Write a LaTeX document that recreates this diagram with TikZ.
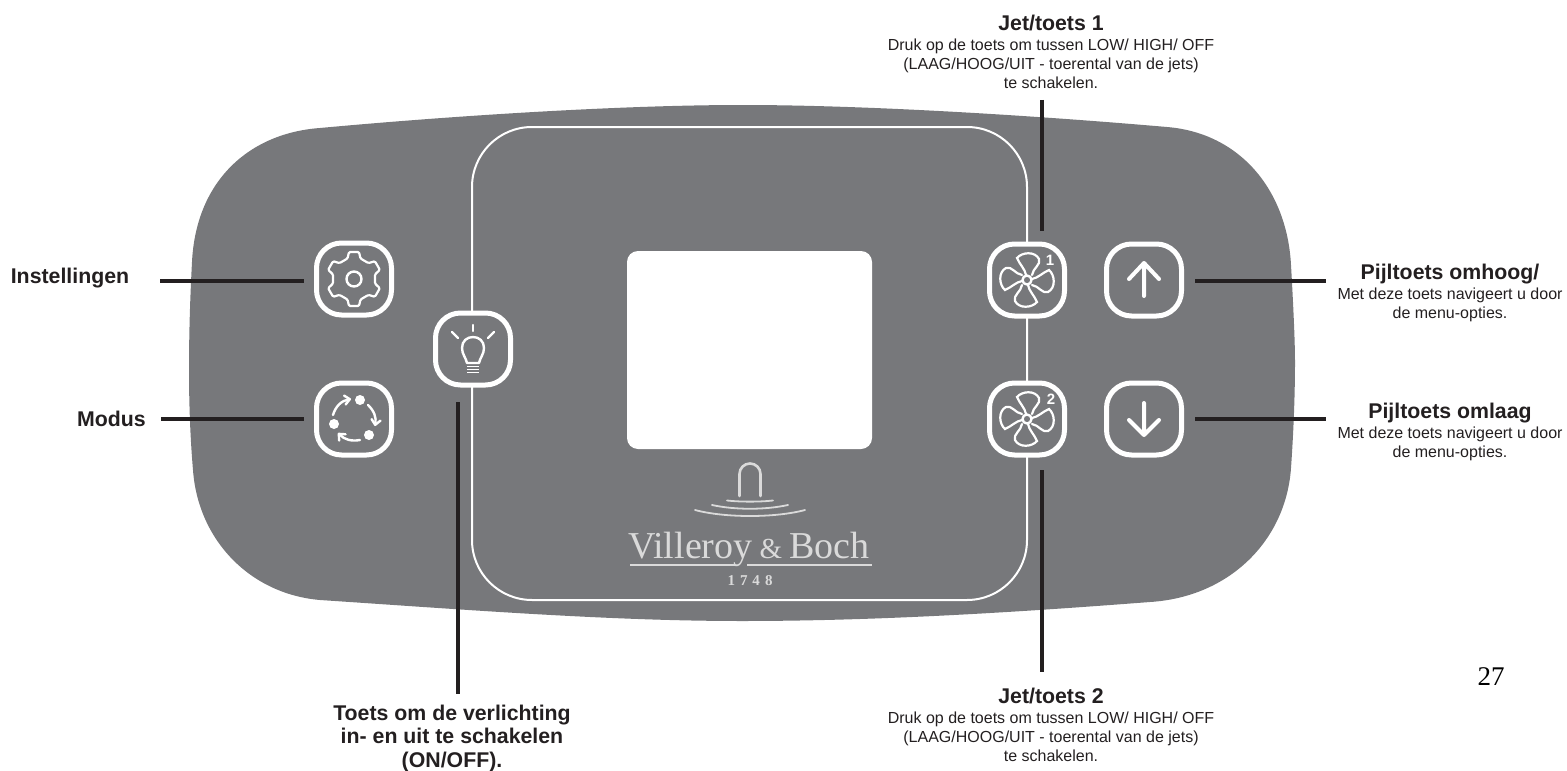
\documentclass[tikz,border=0pt]{standalone}
\usepackage{fontspec}
\setmainfont{Liberation Sans}
\newfontfamily\logofont{Liberation Serif}
\usetikzlibrary{arrows.meta,calc}
\definecolor{figpanel}{RGB}{119,120,123}
\definecolor{figline}{RGB}{35,31,32}
\definecolor{figlogo}{RGB}{218,218,218}
\newcommand{\infotitle}[1]{{\fontsize{21.3}{22}\selectfont\bfseries #1}}
\tikzset{
  panelshape/.style={fill=figpanel, draw=none},
  framebox/.style={draw=white, line width=2pt, rounded corners=60pt, minimum width=555pt, minimum height=473pt, inner sep=0pt, outer sep=0pt},
  screenbox/.style={fill=white, rounded corners=11pt, minimum width=245pt, minimum height=198pt, inner sep=0pt},
  keybox/.style={draw=white, fill=figpanel, line width=5pt, rounded corners=25pt, minimum width=75pt, minimum height=72pt, inner sep=0pt, outer sep=0pt},
  leader/.style={draw=figline, line width=4pt},
  icon/.style={draw=white, line width=2.4pt, line join=round, line cap=round},
  iconarrow/.style={icon, -{Straight Barb[length=5pt, width=9pt, round]}},
  logoline/.style={draw=figlogo, line width=1.8pt, line cap=round},
  titlelabel/.style={text=figline, font=\fontsize{21.3}{23.5}\selectfont\bfseries, align=center, inner sep=0pt},
  infolabel/.style={text=figline, font=\fontsize{16}{19}\selectfont, align=center, inner sep=0pt},
  gearicon/.pic={
    \draw[icon, line width=2.2pt, rounded corners=1.2pt] (60:21) \foreach \a in {90,150,210,270,330,30} { -- ($(\a:20.5)+(\a-90:6.5)$) -- ($(\a:27)+(\a-90:5)$) -- ($(\a:27)+(\a+90:5)$) -- ($(\a:20.5)+(\a+90:6.5)$) } -- cycle;
    \draw[icon] (0,0) circle (7.5);
  },
  cycleicon/.pic={
    \fill[white] (6,-19) circle (5) (-20,5) circle (5) (15,16) circle (5);
    \draw[iconarrow] (-21,-4) to[bend left=32] (-3,-20);
    \draw[iconarrow] (14,-14) to[bend left=28] (21,7);
    \draw[iconarrow] (6,21) to[bend left=28] (-16,14);
  },
  bulbicon/.pic={
    \draw[icon] (-6,14) .. controls (-7,9) and (-11,5) .. (-11,-1) .. controls (-11,-8) and (-6,-12) .. (0,-12) .. controls (6,-12) and (11,-8) .. (11,-1) .. controls (11,5) and (7,9) .. (6,14) -- cycle;
    \foreach \y in {17.5,20.5,23.5} { \draw[icon, line width=1.8pt, line cap=butt] (-6,\y) -- (6,\y); }
    \draw[icon] (0,-24) -- (0,-18);
    \draw[icon] (-21,-17) -- (-15,-11);
    \draw[icon] (21,-17) -- (15,-11);
  },
  fanicon/.pic={
    \foreach \r in {0,90,180,270} {
      \draw[icon, line width=2.2pt, line join=miter, rotate=\r] (-1,-5) .. controls (-2,-11) and (-7,-15) .. (-10,-22) .. controls (-5,-28) and (8,-29) .. (12,-21) .. controls (14,-15) and (6,-12) .. (5,-5);
    }
    \draw[icon] (0,0) circle (4.5);
  }
}

\begin{document}
\begin{tikzpicture}[x=1pt,y=-1pt]
  \useasboundingbox (0,0) rectangle (1567,771);

  % body of the panel
  \path[panelshape] (189,370) .. controls (189,335) and (190,300) .. (192,262) .. controls (196,180) and (250,133) .. (320,128)
    .. controls (450,116) and (620,105) .. (742,105) .. controls (870,105) and (1040,116) .. (1167,127)
    .. controls (1240,133) and (1287,190) .. (1291,265) .. controls (1293,300) and (1295,340) .. (1295,362)
    .. controls (1295,400) and (1293,440) .. (1291,468) .. controls (1286,540) and (1230,597) .. (1150,602)
    .. controls (1020,612) and (880,621) .. (742,621) .. controls (610,621) and (470,610) .. (320,600)
    .. controls (250,594) and (198,540) .. (193,470) .. controls (190,435) and (189,400) .. (189,370) -- cycle;

  \node[framebox] (frame) at (749.5,363.5) {};
  \node[screenbox] (screen) at (749.5,350) {};

  \node[keybox] (gearKey) at (354,279) {};
  \node[keybox] (modeKey) at (354,419) {};
  \node[keybox] (lightKey) at (473,349) {};
  \node[keybox] (jetKeyA) at (1027,280) {};
  \node[keybox] (jetKeyB) at (1027,419) {};
  \node[keybox] (upKey) at (1144,280) {};
  \node[keybox] (downKey) at (1144,419) {};

  \pic at (gearKey) {gearicon};
  \pic at (modeKey) {cycleicon};
  \pic at (lightKey) {bulbicon};
  \pic at (jetKeyA) {fanicon};
  \pic at (jetKeyB) {fanicon};
  \node[text=white, font=\fontsize{15}{15}\selectfont\bfseries, inner sep=0pt] (jetNumA) at (1050,260) {1};
  \node[text=white, font=\fontsize{15}{15}\selectfont\bfseries, inner sep=0pt] (jetNumB) at (1051,399) {2};
  \draw[icon, line width=4pt] (upKey.center) ++(0,16) -- ++(0,-33) ++(-15,16) -- ++(15,-16) -- ++(15,16);
  \draw[icon, line width=4pt] (downKey.center) ++(0,-16) -- ++(0,32) ++(-15,-15) -- ++(15,15) -- ++(15,-15);

  % logo
  \draw[logoline, line width=2.6pt] (739.5,496) -- (739.5,474) arc[start angle=180, end angle=360, radius=10.5] -- (760.5,496);
  \draw[logoline] (727,500.5) .. controls (740,502) and (760,502) .. (773,500.5);
  \draw[logoline] (712,505) .. controls (735,510) and (765,510) .. (788,505);
  \draw[logoline] (695,510) .. controls (725,518) and (775,518) .. (805,510);
  \begin{scope}
    \clip (620,520) rectangle (872,575);
    \node[text=figlogo, font=\logofont\fontsize{38}{38}\selectfont, inner sep=0pt, anchor=base west] (logoName) at (628,558) {Villeroy\hspace{7pt}{\fontsize{29}{29}\selectfont\&}\hspace{7.5pt}Boch};
  \end{scope}
  \draw[logoline, line cap=butt] (630,565) -- (735,565);
  \draw[logoline, line cap=butt] (747,565) -- (872,565);
  \node[text=figlogo, font=\logofont\fontsize{15}{15}\selectfont\bfseries, inner sep=0pt] (logoYear) at (750,581) {1\hspace{5pt}7\hspace{5pt}4\hspace{5pt}8};

  % labels
  \node[titlelabel] (gearLabel) at (70,278) {Instellingen};
  \node[titlelabel] (modeLabel) at (111.5,419) {Modus};
  \node[titlelabel] (lightLabel) at (452,738) {Toets om de verlichting\\in- en uit te schakelen\\(ON/OFF).};
  \node[infolabel] (jetLabelA) at (1051,52) {\infotitle{Jet/toets 1}\\[1pt]Druk op de toets om tussen LOW/ HIGH/ OFF\\(LAAG/HOOG/UIT - toerental van de jets)\\te schakelen.};
  \node[infolabel] (jetLabelB) at (1051,725) {\infotitle{Jet/toets 2}\\[1pt]Druk op de toets om tussen LOW/ HIGH/ OFF\\(LAAG/HOOG/UIT - toerental van de jets)\\te schakelen.};
  \node[infolabel] (upLabel) at (1450,293) {\infotitle{Pijltoets omhoog/}\\[1pt]Met deze toets navigeert u door\\de menu-opties.};
  \node[infolabel] (downLabel) at (1450,432) {\infotitle{Pijltoets omlaag}\\[1pt]Met deze toets navigeert u door\\de menu-opties.};
  \node[font=\logofont\fontsize{27}{27}\selectfont, inner sep=0pt] (pageNum) at (1491,677) {27};

  % leaders
  \coordinate (gearTip) at (304,281);
  \coordinate (modeTip) at (304,419);
  \coordinate (lightTip) at (458,402);
  \coordinate (jetTipA) at (1042,231);
  \coordinate (jetTipB) at (1042,470);
  \coordinate (upTip) at (1195,281);
  \coordinate (downTip) at (1195,419);

  \draw[leader] ([xshift=31pt]gearLabel.east |- gearTip) -- (gearTip);
  \draw[leader] ([xshift=15pt]modeLabel.east |- modeTip) -- (modeTip);
  \draw[leader] (lightTip) -- ([yshift=10pt]lightLabel.north -| lightTip);
  \draw[leader] ([yshift=-11pt]jetLabelA.south -| jetTipA) -- (jetTipA);
  \draw[leader] (jetTipB) -- ([yshift=16pt]jetLabelB.north -| jetTipB);
  \draw[leader] (upTip) -- ([xshift=-11pt]upLabel.west |- upTip);
  \draw[leader] (downTip) -- ([xshift=-11pt]downLabel.west |- downTip);
\end{tikzpicture}
\end{document}
